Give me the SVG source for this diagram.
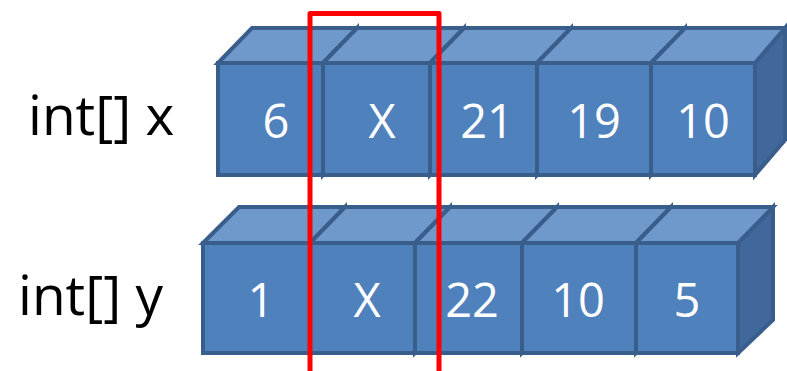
<svg xmlns="http://www.w3.org/2000/svg" width="787" height="371" viewBox="0 0 787 371">
<style>
.front{fill:#4F81BD;stroke:#3A5E8C;stroke-width:4;stroke-linejoin:miter}
.top{fill:#7099CB;stroke:#3A5E8C;stroke-width:4;stroke-linejoin:miter}
.side{fill:#41689B;stroke:#3A5E8C;stroke-width:4;stroke-linejoin:miter}
.num{font-family:"Open Sans","Liberation Sans",Arial,sans-serif;font-size:47px;fill:#FFFFFF;text-anchor:middle}
.lbl{font-family:"Open Sans","Liberation Sans",Arial,sans-serif;font-size:55px;fill:#000000}
</style>
<rect width="787" height="371" fill="#FFFFFF"/>
<text class="lbl" x="28" y="135">int[] x</text>
<text class="lbl" x="18" y="315">int[] y</text>
<g id="x0"><polygon class="side" points="323,63 357,28 357,140 323,175"/><polygon class="top" points="218,63 252,28 357,28 323,63"/><rect class="front" x="218" y="63" width="105" height="112"/><text class="num" x="276" y="138">6</text></g>
<g id="x1"><polygon class="side" points="430,63 464,28 464,140 430,175"/><polygon class="top" points="323,63 357,28 464,28 430,63"/><rect class="front" x="323" y="63" width="107" height="112"/><text class="num" x="382" y="138">X</text></g>
<g id="x2"><polygon class="side" points="537,63 571,28 571,140 537,175"/><polygon class="top" points="430,63 464,28 571,28 537,63"/><rect class="front" x="430" y="63" width="107" height="112"/><text class="num" x="487" y="138">21</text></g>
<g id="x3"><polygon class="side" points="651,63 685,28 685,140 651,175"/><polygon class="top" points="537,63 571,28 685,28 651,63"/><rect class="front" x="537" y="63" width="114" height="112"/><text class="num" x="594" y="138">19</text></g>
<g id="x4"><polygon class="side" points="755,63 785,28 785,140 755,175"/><polygon class="top" points="651,63 685,28 785,28 755,63"/><rect class="front" x="651" y="63" width="104" height="112"/><text class="num" x="703" y="138">10</text></g>
<g id="y0"><polygon class="side" points="310,243 345,207 345,318 310,353"/><polygon class="top" points="203,243 239,207 345,207 310,243"/><rect class="front" x="203" y="243" width="107" height="110"/><text class="num" x="261" y="317">1</text></g>
<g id="y1"><polygon class="side" points="415,243 450,207 450,318 415,353"/><polygon class="top" points="310,243 345,207 450,207 415,243"/><rect class="front" x="310" y="243" width="105" height="110"/><text class="num" x="367" y="317">X</text></g>
<g id="y2"><polygon class="side" points="522,243 557,207 557,318 522,353"/><polygon class="top" points="415,243 450,207 557,207 522,243"/><rect class="front" x="415" y="243" width="107" height="110"/><text class="num" x="472" y="317">22</text></g>
<g id="y3"><polygon class="side" points="636,243 671,207 671,318 636,353"/><polygon class="top" points="522,243 557,207 671,207 636,243"/><rect class="front" x="522" y="243" width="114" height="110"/><text class="num" x="578" y="317">10</text></g>
<g id="y4"><polygon class="side" points="738,243 773,207 773,320 738,353"/><polygon class="top" points="636,243 671,207 773,207 738,243"/><rect class="front" x="636" y="243" width="102" height="110"/><text class="num" x="687" y="317">5</text></g>
<g id="connectors"><path d="M310,371 V13.5 H439 V371" fill="none" stroke="#FF0000" stroke-width="5" stroke-linejoin="round"/></g>
</svg>
